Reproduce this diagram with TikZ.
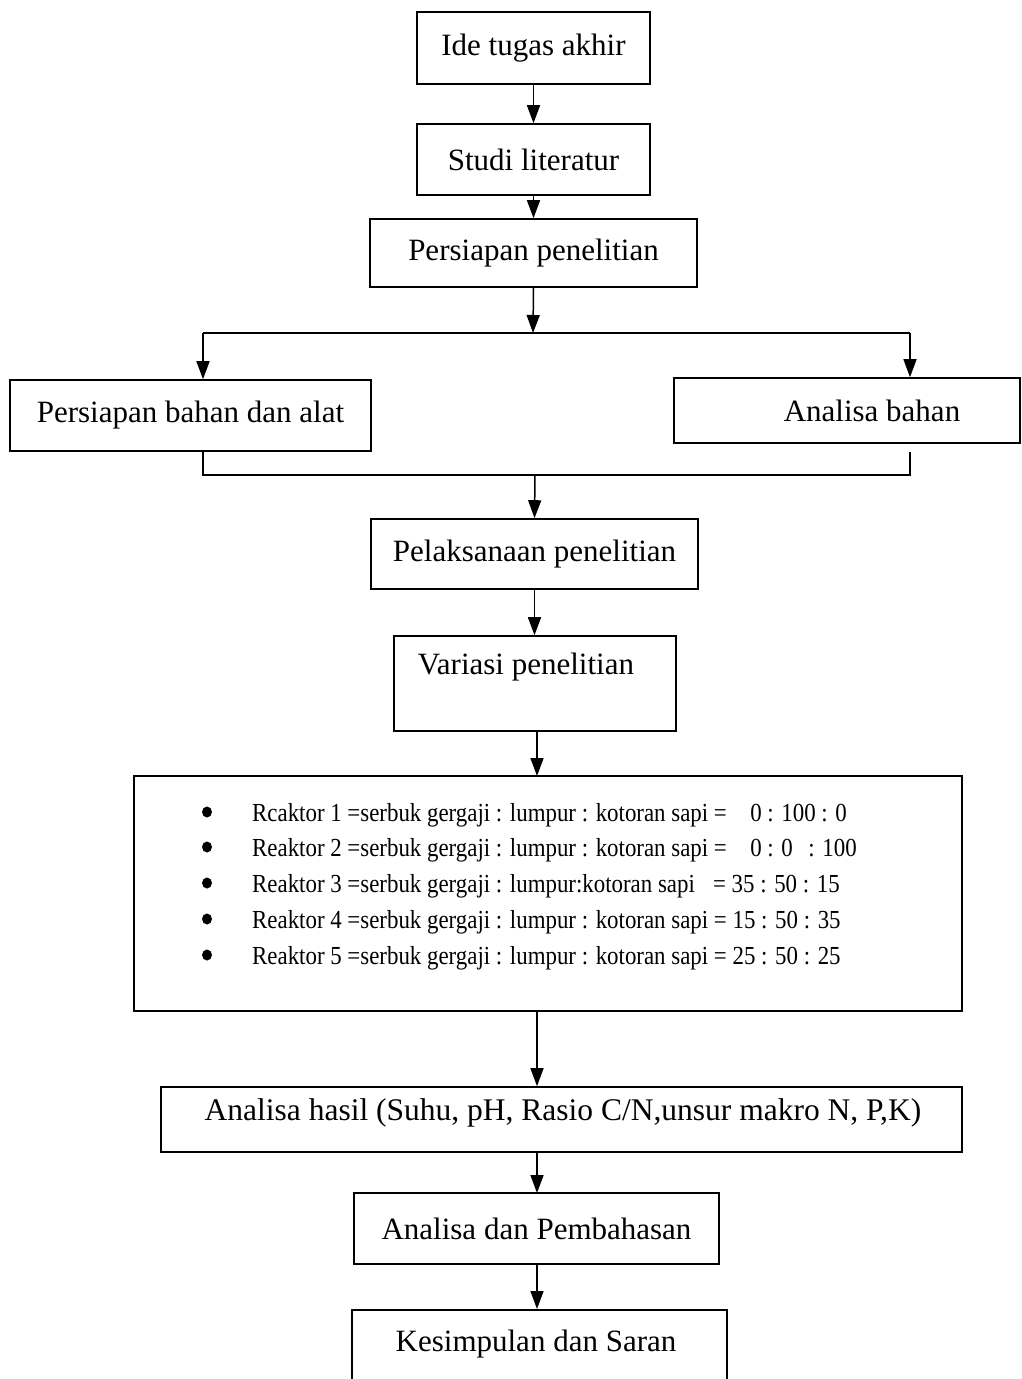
\documentclass[tikz,border=0pt]{standalone}
\usepackage{fontspec}
\setmainfont{Liberation Serif}
\newfontfamily\narrowfont[FakeStretch=0.88]{Liberation Serif}
\usetikzlibrary{arrows.meta}
\begin{document}
\begin{tikzpicture}[x=1pt,y=-1pt,
  box/.style={draw, line width=1.6pt, inner sep=0pt, font=\fontsize{31}{36}\selectfont},
  arr/.style={line width=1.5pt, -{Triangle[length=18pt,width=13pt]}},
  ln/.style={line width=1.5pt},
  rk/.style={anchor=base west, inner sep=0pt, font=\narrowfont\fontsize{26}{30}\selectfont}]
\clip (0,0) rectangle (1021,1379);
\fill[white] (0,0) rectangle (1021,1379);

\node[box, minimum width=233pt, minimum height=72pt] (ide) at (533.5,48) {Ide tugas akhir};
\node[box, minimum width=233pt, minimum height=71pt] (studi) at (533.5,159.5) {Studi literatur};
\node[box, minimum width=327pt, minimum height=68pt] (pers) at (533.5,253) {\raisebox{4pt}{Persiapan penelitian}};
\node[box, minimum width=361pt, minimum height=71pt] (bahan) at (190.5,415.5) {Persiapan bahan dan alat};
\node[box, minimum width=346pt, minimum height=65pt] (anal) at (847,410.5) {};
\node[font=\fontsize{31}{36}\selectfont] (analt) at (872,410.5) {Analisa bahan};
\node[box, minimum width=327pt, minimum height=70pt] (pel) at (534.5,554) {\raisebox{4pt}{Pelaksanaan penelitian}};
\node[box, minimum width=282pt, minimum height=95pt] (var) at (535,683.5) {};
\node[font=\fontsize{31}{36}\selectfont] (vart) at (526,667) {Variasi penelitian};
\node[box, minimum width=828pt, minimum height=235pt] (rea) at (548,893.5) {};
\node[box, minimum width=801pt, minimum height=65pt] (hasil) at (561.5,1119.5) {};
\node[font=\fontsize{31.5}{36}\selectfont] (hasilt) at (563,1113) {Analisa hasil (Suhu, pH, Rasio C/N,unsur makro N, P,K)};
\node[box, minimum width=365pt, minimum height=71pt] (bhs) at (536.5,1228.5) {Analisa dan Pembahasan};
\node[box, minimum width=375pt, minimum height=120pt, anchor=north] (kes) at (539.5,1309) {};
\node[font=\fontsize{31}{36}\selectfont] (kest) at (536,1344) {Kesimpulan dan Saran};

% reaktor lines
\foreach \yy in {812,847,883,919,955} \fill (207,\yy) ellipse (5pt and 5.5pt);
\node[rk] (r1) at (252,821) {Rcaktor 1 =serbuk gergaji : lumpur : kotoran sapi =\hspace{0.9em}0 : 100 : 0};
\node[rk] (r2) at (252,856) {Reaktor 2 =serbuk gergaji : lumpur : kotoran sapi =\hspace{0.9em}0 : 0\hspace{0.6em}: 100};
\node[rk] (r3) at (252,892) {Reaktor 3 =serbuk gergaji : lumpur:kotoran sapi\hspace{0.7em}= 35 : 50 : 15};
\node[rk] (r4) at (252,928) {Reaktor 4 =serbuk gergaji : lumpur : kotoran sapi = 15 : 50 : 35};
\node[rk] (r5) at (252,964) {Reaktor 5 =serbuk gergaji : lumpur : kotoran sapi = 25 : 50 : 25};

% connectors
\draw[arr] (ide.south) -- (studi.north);
\draw[arr] (studi.south) -- (pers.north);
\coordinate (sm) at (533,333);
\coordinate (sl) at (203,333);
\coordinate (sr) at (910,333);
\draw[arr] (pers.south) -- (sm);
\draw[ln] (sl) -- (sr);
\draw[arr] (sl) -- (sl |- bahan.north);
\draw[arr] (sr) -- (sr |- anal.north);
\coordinate (ml) at (203,475);
\coordinate (mr) at (910,475);
\coordinate (mrt) at (910,452);
\coordinate (mm) at (535,475);
\draw[ln] (ml |- bahan.south) -- (ml) -- (mr) -- (mrt);
\draw[arr] (mm) -- (pel.north);
\draw[arr] (pel.south) -- (pel.south |- var.north);
\draw[arr] (537,731) -- (537,776);
\coordinate (rb) at (537,1011);
\draw[arr] (rb) -- (rb |- hasil.north);
\draw[arr] (537,1152) -- (537,1193);
\draw[arr] (537,1264) -- (537,1309);
\end{tikzpicture}
\end{document}
